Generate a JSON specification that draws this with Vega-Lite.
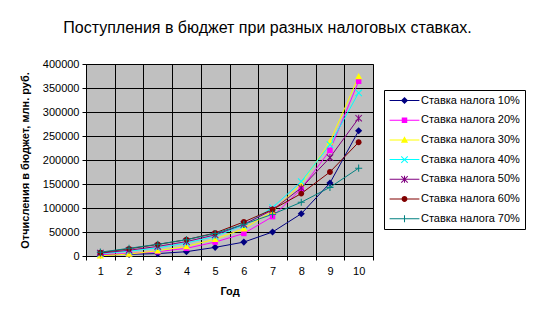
{
  "$schema": "https://vega.github.io/schema/vega-lite/v6.json",
  "width": 287,
  "height": 192,
  "autosize": "none",
  "padding": {"left": 86, "top": 64, "right": 163, "bottom": 66},
  "background": "white",
  "title": {"text": "Поступления в бюджет при разных налоговых ставках.", "font": "Liberation Sans", "fontSize": 16, "fontWeight": "normal", "color": "black", "anchor": "middle", "offset": 22, "dx": 38},
  "config": {
    "view": {"fill": "#C0C0C0", "stroke": "#808080", "strokeWidth": 1},
    "axis": {"domainColor": "black", "tickColor": "black", "gridColor": "black", "gridWidth": 1, "gridOpacity": 1, "labelFont": "Liberation Sans", "labelFontSize": 11, "labelColor": "black", "titleFont": "Liberation Sans", "titleFontSize": 11, "titleFontWeight": "bold", "titleColor": "black", "tickSize": 4},
    "legend": {"orient": "none", "legendX": 298, "legendY": 26, "fillColor": "white", "strokeColor": "black", "padding": 5, "symbolSize": 42, "symbolOffset": 10, "labelOffset": 11, "labelFont": "Liberation Sans", "labelFontSize": 11, "labelColor": "black", "rowPadding": 7.7, "symbolOpacity": 1, "symbolStrokeWidth": 0}
  },
  "data": {"values": [
    {"year": 1, "series": "Ставка налога 10%", "value": 2000},
    {"year": 2, "series": "Ставка налога 10%", "value": 3500},
    {"year": 3, "series": "Ставка налога 10%", "value": 5000},
    {"year": 4, "series": "Ставка налога 10%", "value": 9000},
    {"year": 5, "series": "Ставка налога 10%", "value": 18000},
    {"year": 6, "series": "Ставка налога 10%", "value": 29000},
    {"year": 7, "series": "Ставка налога 10%", "value": 50000},
    {"year": 8, "series": "Ставка налога 10%", "value": 88000},
    {"year": 9, "series": "Ставка налога 10%", "value": 152000},
    {"year": 10, "series": "Ставка налога 10%", "value": 261000},
    {"year": 1, "series": "Ставка налога 20%", "value": 3000},
    {"year": 2, "series": "Ставка налога 20%", "value": 5000},
    {"year": 3, "series": "Ставка налога 20%", "value": 9000},
    {"year": 4, "series": "Ставка налога 20%", "value": 16000},
    {"year": 5, "series": "Ставка налога 20%", "value": 29000},
    {"year": 6, "series": "Ставка налога 20%", "value": 47000},
    {"year": 7, "series": "Ставка налога 20%", "value": 82000},
    {"year": 8, "series": "Ставка налога 20%", "value": 140000},
    {"year": 9, "series": "Ставка налога 20%", "value": 220000},
    {"year": 10, "series": "Ставка налога 20%", "value": 364000},
    {"year": 1, "series": "Ставка налога 30%", "value": 500},
    {"year": 2, "series": "Ставка налога 30%", "value": 4000},
    {"year": 3, "series": "Ставка налога 30%", "value": 11000},
    {"year": 4, "series": "Ставка налога 30%", "value": 20000},
    {"year": 5, "series": "Ставка налога 30%", "value": 35000},
    {"year": 6, "series": "Ставка налога 30%", "value": 57000},
    {"year": 7, "series": "Ставка налога 30%", "value": 93000},
    {"year": 8, "series": "Ставка налога 30%", "value": 150000},
    {"year": 9, "series": "Ставка налога 30%", "value": 238000},
    {"year": 10, "series": "Ставка налога 30%", "value": 374000},
    {"year": 1, "series": "Ставка налога 40%", "value": 5000},
    {"year": 2, "series": "Ставка налога 40%", "value": 10000},
    {"year": 3, "series": "Ставка налога 40%", "value": 17000},
    {"year": 4, "series": "Ставка налога 40%", "value": 27000},
    {"year": 5, "series": "Ставка налога 40%", "value": 41000},
    {"year": 6, "series": "Ставка налога 40%", "value": 64000},
    {"year": 7, "series": "Ставка налога 40%", "value": 101000},
    {"year": 8, "series": "Ставка налога 40%", "value": 155000},
    {"year": 9, "series": "Ставка налога 40%", "value": 232000},
    {"year": 10, "series": "Ставка налога 40%", "value": 340000},
    {"year": 1, "series": "Ставка налога 50%", "value": 6000},
    {"year": 2, "series": "Ставка налога 50%", "value": 12000},
    {"year": 3, "series": "Ставка налога 50%", "value": 20000},
    {"year": 4, "series": "Ставка налога 50%", "value": 30000},
    {"year": 5, "series": "Ставка налога 50%", "value": 44000},
    {"year": 6, "series": "Ставка налога 50%", "value": 66000},
    {"year": 7, "series": "Ставка налога 50%", "value": 96000},
    {"year": 8, "series": "Ставка налога 50%", "value": 142000},
    {"year": 9, "series": "Ставка налога 50%", "value": 205000},
    {"year": 10, "series": "Ставка налога 50%", "value": 287000},
    {"year": 1, "series": "Ставка налога 60%", "value": 7000},
    {"year": 2, "series": "Ставка налога 60%", "value": 15000},
    {"year": 3, "series": "Ставка налога 60%", "value": 24000},
    {"year": 4, "series": "Ставка налога 60%", "value": 34000},
    {"year": 5, "series": "Ставка налога 60%", "value": 48000},
    {"year": 6, "series": "Ставка налога 60%", "value": 71000},
    {"year": 7, "series": "Ставка налога 60%", "value": 97000},
    {"year": 8, "series": "Ставка налога 60%", "value": 130000},
    {"year": 9, "series": "Ставка налога 60%", "value": 175000},
    {"year": 10, "series": "Ставка налога 60%", "value": 237000},
    {"year": 1, "series": "Ставка налога 70%", "value": 8000},
    {"year": 2, "series": "Ставка налога 70%", "value": 16000},
    {"year": 3, "series": "Ставка налога 70%", "value": 24500},
    {"year": 4, "series": "Ставка налога 70%", "value": 34000},
    {"year": 5, "series": "Ставка налога 70%", "value": 47000},
    {"year": 6, "series": "Ставка налога 70%", "value": 66000},
    {"year": 7, "series": "Ставка налога 70%", "value": 87000},
    {"year": 8, "series": "Ставка налога 70%", "value": 112000},
    {"year": 9, "series": "Ставка налога 70%", "value": 143000},
    {"year": 10, "series": "Ставка налога 70%", "value": 183000}
  ]},
  "encoding": {
    "x": {"field": "year", "type": "quantitative",
      "scale": {"domain": [0.5, 10.5], "nice": false, "zero": false},
      "axis": {"title": "Год", "values": [0.5, 1, 1.5, 2, 2.5, 3, 3.5, 4, 4.5, 5, 5.5, 6, 6.5, 7, 7.5, 8, 8.5, 9, 9.5, 10, 10.5],
        "labelExpr": "datum.value % 1 === 0 ? '' + datum.value : ''",
        "labelPadding": 5, "titlePadding": 9, "labelFlush": false, "labelOverlap": false,
        "gridOpacity": {"condition": {"test": "datum.value % 1 !== 0", "value": 1}, "value": 0},
        "tickOpacity": {"condition": {"test": "datum.value % 1 !== 0", "value": 1}, "value": 0}}},
    "y": {"field": "value", "type": "quantitative",
      "scale": {"domain": [0, 400000], "nice": false},
      "axis": {"title": "Отчисления в бюджет, млн. руб.", "values": [0, 50000, 100000, 150000, 200000, 250000, 300000, 350000, 400000], "format": "d", "labelPadding": 3, "titleX": -61, "titleY": 96, "titleBaseline": "middle", "titleAngle": -90}}
  },
  "layer": [
    {
      "mark": {"type": "line", "strokeWidth": 1},
      "encoding": {
        "color": {"field": "series", "type": "nominal", "legend": {"title": null, "symbolStrokeWidth": 0},
          "scale": {"domain": ["Ставка налога 10%", "Ставка налога 20%", "Ставка налога 30%", "Ставка налога 40%", "Ставка налога 50%", "Ставка налога 60%", "Ставка налога 70%"],
            "range": ["#000080", "#FF00FF", "#FFFF00", "#00FFFF", "#800080", "#800000", "#008080"]}}
      }
    },
    {
      "transform": [{"filter": "datum.series === 'Ставка налога 10%'"}],
      "mark": {"type": "point", "filled": true, "opacity": 1, "size": 42, "color": "#000080", "shape": "M0,-1.1L1.1,0L0,1.1L-1.1,0Z"}
    },
    {
      "transform": [{"filter": "datum.series === 'Ставка налога 20%'"}],
      "mark": {"type": "point", "filled": true, "opacity": 1, "size": 42, "color": "#FF00FF", "shape": "M-0.85,-0.85H0.85V0.85H-0.85Z"}
    },
    {
      "transform": [{"filter": "datum.series === 'Ставка налога 30%'"}],
      "mark": {"type": "point", "filled": true, "opacity": 1, "size": 42, "color": "#FFFF00", "shape": "M0,-1.1L1.1,0.85H-1.1Z"}
    },
    {
      "transform": [{"filter": "datum.series === 'Ставка налога 40%'"}],
      "mark": {"type": "point", "filled": true, "opacity": 1, "size": 42, "color": "#00FFFF", "shape": "M-0.89,-1.11L1.11,0.89L0.89,1.11L-1.11,-0.89ZM-1.11,0.89L0.89,-1.11L1.11,-0.89L-0.89,1.11Z"}
    },
    {
      "transform": [{"filter": "datum.series === 'Ставка налога 50%'"}],
      "mark": {"type": "point", "filled": true, "opacity": 1, "size": 42, "color": "#800080", "shape": "M-0.89,-1.11L1.11,0.89L0.89,1.11L-1.11,-0.89ZM-1.11,0.89L0.89,-1.11L1.11,-0.89L-0.89,1.11ZM-0.16,-1.1H0.16V1.1H-0.16Z"}
    },
    {
      "transform": [{"filter": "datum.series === 'Ставка налога 60%'"}],
      "mark": {"type": "point", "filled": true, "opacity": 1, "size": 42, "color": "#800000", "shape": "M-0.9,0A0.9,0.9,0,1,1,0.9,0A0.9,0.9,0,1,1,-0.9,0Z"}
    },
    {
      "transform": [{"filter": "datum.series === 'Ставка налога 70%'"}],
      "mark": {"type": "point", "filled": true, "opacity": 1, "size": 42, "color": "#008080", "shape": "M-0.16,-1.1H0.16V1.1H-0.16ZM-1.1,-0.16H1.1V0.16H-1.1Z"}
    },
    {
      "mark": {"type": "point", "filled": true, "opacity": 0, "size": 42},
      "encoding": {
        "color": {"field": "series", "type": "nominal", "legend": {"title": null, "symbolStrokeWidth": 0}},
        "shape": {"field": "series", "type": "nominal", "legend": {"title": null, "symbolStrokeWidth": 0},
          "scale": {"domain": ["Ставка налога 10%", "Ставка налога 20%", "Ставка налога 30%", "Ставка налога 40%", "Ставка налога 50%", "Ставка налога 60%", "Ставка налога 70%"],
            "range": [
              "M-4.6,-0.16H4.6V0.16H-4.6ZM0,-1.1L1.1,0L0,1.1L-1.1,0Z",
              "M-4.6,-0.16H4.6V0.16H-4.6ZM-0.85,-0.85H0.85V0.85H-0.85Z",
              "M-4.6,-0.16H4.6V0.16H-4.6ZM0,-1.1L1.1,0.85H-1.1Z",
              "M-4.6,-0.16H4.6V0.16H-4.6ZM-0.89,-1.11L1.11,0.89L0.89,1.11L-1.11,-0.89ZM-1.11,0.89L0.89,-1.11L1.11,-0.89L-0.89,1.11Z",
              "M-4.6,-0.16H4.6V0.16H-4.6ZM-0.89,-1.11L1.11,0.89L0.89,1.11L-1.11,-0.89ZM-1.11,0.89L0.89,-1.11L1.11,-0.89L-0.89,1.11ZM-0.16,-1.1H0.16V1.1H-0.16Z",
              "M-4.6,-0.16H4.6V0.16H-4.6ZM-0.9,0A0.9,0.9,0,1,1,0.9,0A0.9,0.9,0,1,1,-0.9,0Z",
              "M-4.6,-0.16H4.6V0.16H-4.6ZM-0.16,-1.1H0.16V1.1H-0.16Z"]}}
      }
    }
  ]
}
